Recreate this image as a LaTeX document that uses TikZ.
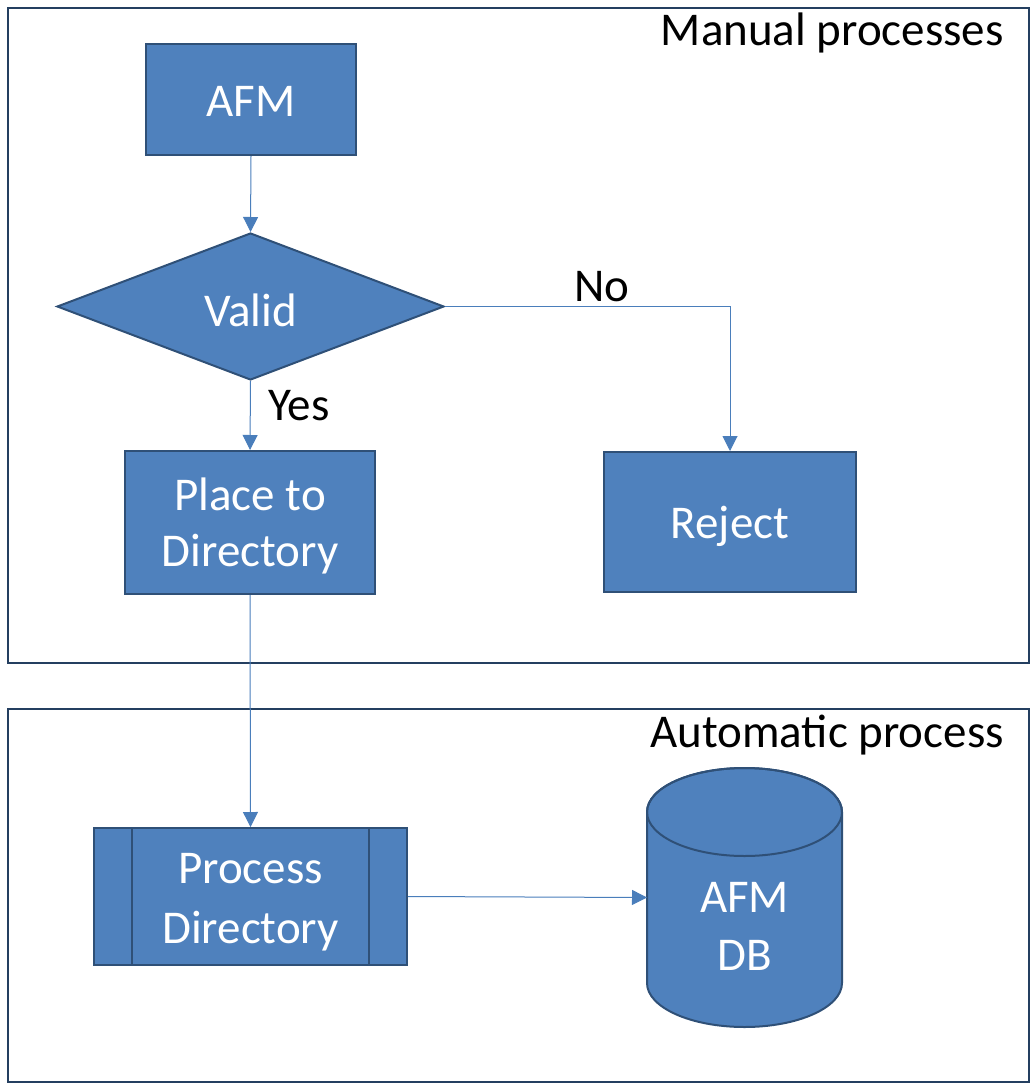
\documentclass[tikz,border=0pt]{standalone}
\usepackage{fontspec}
\setmainfont{Carlito}
\usetikzlibrary{arrows.meta,shapes.geometric}
\definecolor{boxfill}{HTML}{4F81BD}
\definecolor{boxedge}{HTML}{2F5077}
\definecolor{frameedge}{HTML}{243F60}
\definecolor{linkcol}{HTML}{4A7EBB}
\begin{document}
\begin{tikzpicture}[x=1pt,y=-1pt,
  bigtext/.style={font=\fontsize{47}{57}\selectfont},
  box/.style={draw=boxedge, fill=boxfill, line width=2pt, inner sep=0pt},
  boxtext/.style={bigtext, text=white, align=center, inner sep=0pt},
  frame/.style={draw=frameedge, line width=2.2pt},
  link/.style={draw=linkcol, line width=1pt, -{Triangle[length=15pt,width=15pt]}},
  lbl/.style={bigtext, text=black, inner sep=0pt}]
\useasboundingbox (0,0) rectangle (1031,1084);

% swimlane frames
\draw[frame] (8,8) rectangle (1029,663);
\draw[frame] (8,709) rectangle (1029,1082);
\node[lbl, anchor=east] (lane1) at (1004,33) {Manual processes};
\node[lbl, anchor=east] (lane2) at (1004,735) {Automatic process};

% manual steps
\node[box, minimum width=210pt, minimum height=111pt] (afm) at (251,99.5) {};
\node[box, diamond, minimum width=387pt, minimum height=147pt] (valid) at (250.5,306.5) {};
\node[box, minimum width=250pt, minimum height=143pt] (place) at (250,522.5) {};
\node[box, minimum width=252pt, minimum height=140pt] (reject) at (730,522) {};
\node[boxtext] (afmtext) at ([yshift=-2pt]afm.center) {AFM};
\node[boxtext] (validtext) at ([yshift=-4pt]valid.center) {Valid};
\node[boxtext] (placetext) at ([yshift=-3pt]place.center) {Place to\\[-1pt]Directory};
\node[boxtext] (rejecttext) at ([yshift=-4pt]reject.center) {Reject};

% automatic steps
\node[box, minimum width=313pt, minimum height=137pt] (proc) at (250.5,896.5) {};
\draw[draw=boxedge, line width=2pt]
  ([xshift=39pt]proc.north west) -- ([xshift=39pt]proc.south west)
  ([xshift=-39pt]proc.north east) -- ([xshift=-39pt]proc.south east);
\node[boxtext] (proctext) at ([yshift=-6pt]proc.center) {Process\\[3pt]Directory};

% database cylinder
\filldraw[fill=boxfill, draw=boxedge, line width=2pt]
  (647,812) -- (647,983) arc[start angle=180, end angle=360, x radius=97.5pt, y radius=44pt]
  -- (842,812) arc[start angle=0, end angle=180, x radius=97.5pt, y radius=44pt] -- cycle;
\draw[draw=boxedge, line width=2pt] (744.5,812) ellipse [x radius=97.5pt, y radius=44pt];
\node[minimum width=195pt, minimum height=171pt, inner sep=0pt, outer sep=0pt] (db) at (744.5,897.5) {};
\node[boxtext] (dbtext) at (744.5,926) {AFM\\[1pt]DB};

% connectors
\draw[link] (afm.south) -- (valid.north);
\draw[link] (valid.south) -- (place.north);
\draw[link] (valid.east) -| (reject.north);
\draw[link] (place.south) -- (proc.north);
\draw[link] (proc.east) -- (db.west);
\node[lbl] (yes) at (299,406) {Yes};
\node[lbl] (no) at (602,287) {No};
\end{tikzpicture}
\end{document}
